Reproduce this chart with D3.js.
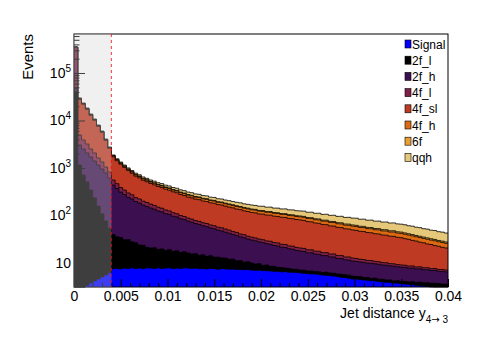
<!DOCTYPE html>
<html>
<head>
<meta charset="utf-8">
<script src="https://cdn.jsdelivr.net/npm/d3@7"></script>
<style>
body{margin:0;background:#fff;}
svg{display:block;font-family:"Liberation Sans",Arial,Helvetica,sans-serif;}
</style>
</head>
<body>
<div id="chart"></div>
<script>
//stacked y_{4->3} histograms, 100 bins from 0 to 0.04
var xMin = 0, xMax = 0.04, nBins = 100, cutValue = 0.004;

var sampleNames = ["Signal", "2f_l", "2f_h", "4f_l", "4f_sl", "4f_h", "6f", "qqh"];
var sampleColors = ["#0000ff", "#000000", "#3c1050", "#7f1e46", "#bf3a22", "#dd6a13", "#e89f33", "#e6c87a"];

var signal = [
    0, 0, 0.8, 3.4, 3.8, 4.2, 4.6, 5.1, 5.6, 6.2,
    7.6, 7.7, 7.5, 7.8, 7.7, 7.9, 7.7, 7.8, 7.6, 7.9,
    7.8, 7.7, 7.9, 7.7, 7.8, 7.9, 7.6, 7.8, 7.7, 7.9,
    7.8, 7.7, 7.8, 7.6, 7.7, 7.5, 7.7, 7.6, 7.4, 7.6,
    7.5, 7.4, 7.5, 7.3, 7.3, 7.2, 7.3, 7.1, 7.0, 7.1,
    6.9, 6.9, 6.8, 6.7, 6.7, 6.5, 6.6, 6.4, 6.4, 6.3,
    6.2, 6.1, 6.0, 5.9, 5.9, 5.7, 5.6, 5.5, 5.4, 5.3,
    5.2, 5.0, 4.95, 4.8, 4.6, 4.6, 4.5, 4.4, 4.35, 4.25,
    4.2, 4.1, 4.0, 3.95, 3.9, 3.8, 3.75, 3.7, 3.6, 3.55,
    3.5, 3.4, 3.35, 3.3, 3.2, 3.15, 3.05, 2.95, 2.9, 2.8
];
var bkg2fL = [
    40000, 1156, 712, 504, 340, 230, 153, 103, 71, 48,
    32, 28, 27, 23, 23.5, 20, 19, 16.2, 16, 13.5,
    13, 13.2, 11.5, 12.1, 10.6, 11.4, 10, 10.3, 9.0, 9.4,
    8.5, 7.8, 7.9, 6.9, 7.2, 6.3, 6.5, 5.7, 5.9, 5.2,
    5.2, 4.6, 4.6, 3.8, 3.9, 3.2, 3.3, 2.9, 2.5, 2.6,
    2.0, 2.2, 1.7, 1.8, 1.4, 1.5, 1.2, 1.3, 1.0, 1.05,
    0.9, 0.95, 0.8, 0.9, 0.75, 0.85, 0.7, 0.9, 0.75, 0.8,
    0.65, 0.8, 0.7, 0.75, 0.7, 0.6, 0.7, 0.55, 0.6, 0.5,
    0.6, 0.45, 0.55, 0.45, 0.5, 0.4, 0.5, 0.4, 0.5, 0.45,
    0.55, 0.5, 0.6, 0.55, 0.65, 0.6, 0.7, 0.75, 0.7, 0.8
];
var bkg2fH = [
    8000, 1894, 1799, 1563, 1362, 1170, 998, 845, 708, 561,
    398, 335, 276, 246, 212, 195, 170, 159, 142, 134,
    123, 115, 105, 100, 91, 87, 79, 75.5, 68.5, 65.2,
    60, 57, 52, 50.3, 46, 44.5, 40.6, 39.2, 35.8, 34.6,
    32, 30.4, 27.8, 26.9, 24.3, 23.7, 21.4, 20.5, 19.8, 18.2,
    17.9, 16.4, 16.3, 14.9, 14.8, 13.5, 13.4, 12.2, 12.1, 11.1,
    10.8, 10.5, 9.6, 9.6, 8.8, 8.7, 8.0, 7.9, 7.3, 7.3,
    6.6, 6.6, 6.0, 6.0, 5.7, 5.6, 5.3, 5.35, 5.0, 5.1,
    4.8, 4.85, 4.55, 4.6, 4.3, 4.4, 4.1, 4.1, 4.0, 3.8,
    3.8, 3.6, 3.6, 3.4, 3.4, 3.2, 3.25, 3.0, 3.05, 2.9
];
var bkg4fL = [
    300000, 1905, 1370, 1130, 806, 666, 469, 384, 265, 208,
    121, 97, 77, 66, 55, 50, 42, 39.5, 34.5, 32.5,
    30, 27, 25.5, 22.4, 21.2, 18.5, 17.8, 15.4, 14.8, 12.9,
    12, 11.6, 10.5, 10.4, 9.4, 9.5, 8.4, 8.5, 7.6, 7.6,
    7, 6.8, 6.0, 6.0, 5.2, 5.3, 4.6, 4.5, 4.4, 4.0,
    4.1, 3.7, 3.9, 3.5, 3.6, 3.3, 3.3, 3.0, 3.1, 2.8,
    2.8, 2.75, 2.5, 2.55, 2.3, 2.4, 2.2, 2.25, 2.0, 2.1,
    1.9, 2.0, 1.75, 1.85, 1.7, 1.65, 1.5, 1.5, 1.35, 1.37,
    1.22, 1.25, 1.1, 1.12, 1.0, 1.02, 0.92, 0.9, 0.88, 0.82,
    0.83, 0.76, 0.78, 0.71, 0.73, 0.66, 0.68, 0.62, 0.64, 0.6
];
var bkg4fSL = [
    3000, 23045, 18070, 14030, 10370, 8040, 5935, 4313, 2785, 1776,
    1166, 955, 815, 688, 592, 503, 436, 398, 352, 327,
    298, 279, 258, 245, 228, 216, 201, 192, 177, 168,
    156, 151, 143, 140, 132, 129, 122, 120, 113, 111,
    106, 101, 99, 93, 92, 86, 85, 81, 80, 76,
    76, 73, 73, 70, 69, 67, 66.5, 64, 63, 61,
    60, 58.5, 55.5, 54.5, 51.8, 50.9, 48.2, 47.5, 45, 44.3,
    42, 41.2, 39.1, 38.5, 37, 36.2, 34.5, 34.1, 32.5, 32,
    30.5, 30.2, 28.7, 28.4, 27, 26.8, 25.5, 25, 23.6, 22.9,
    21.2, 20.7, 19.1, 18.7, 17.2, 16.9, 15.6, 15.2, 14.1, 13.6
];
var bkg4fH = [
    500, 750, 580, 460, 340, 270, 200, 150, 100, 70,
    70, 63, 56, 53, 47, 46, 42, 42, 38.5, 37.5,
    36, 35, 33, 32.5, 30.2, 30, 27.8, 27.6, 25.8, 25.3,
    24, 23.8, 22.6, 22.9, 21.6, 21.9, 20.6, 20.8, 19.7, 19.8,
    19, 18.9, 17.8, 18.0, 17.0, 17.1, 16.2, 16, 15.9, 15.3,
    15.4, 14.8, 14.9, 14.3, 14.4, 13.8, 14.0, 13.3, 13.5, 13.0,
    13, 12.9, 12.4, 12.6, 12.0, 12.2, 11.5, 11.8, 11.1, 11.3,
    10.7, 10.9, 10.2, 10.4, 10, 9.9, 9.5, 9.7, 9.1, 9.4,
    8.8, 9.0, 8.5, 8.7, 8.2, 8.5, 8.0, 8, 7.8, 7.3,
    7.4, 6.8, 6.9, 6.3, 6.5, 5.9, 6.1, 5.5, 5.7, 5.3
];
var bkg6f = [
    100, 300, 240, 180, 140, 110, 80, 60, 45, 30,
    25, 22.5, 19.6, 18.8, 16.7, 16.3, 14.7, 14.5, 13.2, 13,
    12, 11.7, 10.9, 10.8, 10.0, 10.0, 9.2, 9.2, 8.5, 8.5,
    8, 7.9, 7.5, 7.5, 7.1, 7.1, 6.7, 6.7, 6.3, 6.3,
    6, 5.9, 5.6, 5.6, 5.3, 5.4, 5.1, 5, 4.95, 4.8,
    4.85, 4.65, 4.65, 4.45, 4.5, 4.35, 4.35, 4.15, 4.2, 4.05,
    4, 4.0, 3.85, 3.95, 3.8, 3.85, 3.75, 3.8, 3.7, 3.75,
    3.65, 3.7, 3.6, 3.65, 3.6, 3.55, 3.4, 3.4, 3.25, 3.25,
    3.1, 3.1, 2.95, 2.95, 2.8, 2.8, 2.65, 2.6, 2.55, 2.4,
    2.4, 2.25, 2.25, 2.1, 2.1, 1.95, 1.95, 1.8, 1.8, 1.7
];
var bkgQqh = [
    300, 750, 580, 460, 340, 270, 200, 150, 100, 70,
    60, 56, 55, 50.5, 50, 46, 46, 42.5, 43, 40,
    39, 39.5, 37.4, 38.6, 36.8, 37.9, 35.8, 37.0, 35.2, 36.0,
    35, 34.9, 33.2, 33.9, 31.9, 32.8, 30.7, 31.6, 29.7, 30.3,
    29, 30.2, 28.1, 29.4, 29.8, 28.0, 28.9, 29.5, 28.2, 29.1,
    29.3, 28.1, 28.9, 27.7, 28.6, 27.5, 28.3, 27.2, 27.9, 26.8,
    27, 27.8, 26.3, 27.4, 26.0, 27.1, 25.7, 26.6, 25.5, 26.3,
    25.2, 26.0, 24.8, 25.6, 25, 25.6, 24.1, 24.8, 23.5, 24.1,
    22.9, 23.4, 22.4, 22.8, 21.8, 22.1, 21.2, 21, 20.9, 19.7,
    19.9, 18.7, 18.9, 17.7, 17.9, 16.7, 16.9, 15.8, 15.8, 15
];

var xTickValues = [0, 0.005, 0.01, 0.015, 0.02, 0.025, 0.03, 0.035, 0.04];
var xTickLabels = ["0", "0.005", "0.01", "0.015", "0.02", "0.025", "0.03", "0.035", "0.04"];
var yTickValues = [10, 100, 1000, 10000, 100000];
var yTickExponents = ["", "2", "3", "4", "5"];

var width = 498,
    height = 338,
    margin = {left: 74, top: 34, right: 50, bottom: 51},
    plot_w = width - margin.left - margin.right,
    plot_h = height - margin.top - margin.bottom;

var series = [signal, bkg2fL, bkg2fH, bkg4fL, bkg4fSL, bkg4fH, bkg6f, bkgQqh];
var binW = (xMax - xMin) / nBins;

// rows for d3.stack
var rows = d3.range(nBins).map(function (i) {
    var r = {lo: xMin + i * binW, hi: xMin + (i + 1) * binW};
    sampleNames.forEach(function (name, k) { r[name] = series[k][i]; });
    return r;
});
var stacked = d3.stack().keys(sampleNames)(rows);

var scale_x = d3.scaleLinear().domain([xMin, xMax]).range([0, plot_w]);
var scale_y = d3.scaleLog().domain([3.124, 6.62e5]).range([plot_h, 0]).clamp(true);

var svg = d3.select("#chart")
    .append("svg")
    .attr("width", width)
    .attr("height", height);

svg.append("rect").attr("width", width).attr("height", height).attr("fill", "#fff");

var chart = svg.append("g")
    .attr("transform", "translate(" + margin.left + "," + margin.top + ")");

// step points of one cumulative layer
function stepPoints(layer) {
    var pts = [];
    layer.forEach(function (d) {
        pts.push({x: scale_x(d.data.lo), v: d[1]});
        pts.push({x: scale_x(d.data.hi), v: d[1]});
    });
    return pts;
}

var area = d3.area()
    .x(function (d) { return d.x; })
    .y0(plot_h)
    .y1(function (d) { return scale_y(Math.max(d.v, 1e-3)); });
var outline = d3.line()
    .x(function (d) { return d.x; })
    .y(function (d) { return scale_y(Math.max(d.v, 1e-3)); });

// draw from the top layer down, like THStack
for (var k = stacked.length - 1; k >= 0; k--) {
    var pts = stepPoints(stacked[k]);
    chart.append("path")
        .attr("d", area(pts))
        .attr("fill", sampleColors[k]);
    chart.append("path")
        .attr("d", outline(pts))
        .attr("fill", "none")
        .attr("stroke", "#000")
        .attr("stroke-width", 0.8);
}

// x axis, ticks inside
var x_axis = chart.append("g")
    .attr("transform", "translate(0," + plot_h + ")")
    .call(d3.axisBottom(scale_x)
        .tickValues(xTickValues)
        .tickFormat(function (d, i) { return xTickLabels[i]; })
        .tickSizeInner(-8).tickSizeOuter(0).tickPadding(4));
x_axis.select(".domain").remove();
x_axis.selectAll("text").attr("font-size", "14px").attr("fill", "#000").style("font-family", "inherit");

var xMinor = d3.range(0, 41).map(function (i) { return i * 0.001; })
    .filter(function (v, i) { return i % 5 !== 0; });
var x_minor = chart.append("g")
    .attr("transform", "translate(0," + plot_h + ")")
    .call(d3.axisBottom(scale_x).tickValues(xMinor).tickFormat("").tickSizeInner(-4).tickSizeOuter(0));
x_minor.select(".domain").remove();

// y axis, log
var y_axis = chart.append("g")
    .call(d3.axisLeft(scale_y).tickValues(yTickValues).tickFormat("").tickSizeInner(-11).tickSizeOuter(0));
y_axis.select(".domain").remove();

var yMinor = [];
[1, 10, 100, 1000, 10000, 100000].forEach(function (p) {
    for (var m = 2; m <= 9; m++) {
        if (m * p > 3.124 && m * p < 6.62e5) yMinor.push(m * p);
    }
});
var y_minor = chart.append("g")
    .call(d3.axisLeft(scale_y).tickValues(yMinor).tickFormat("").tickSizeInner(-5.5).tickSizeOuter(0));
y_minor.select(".domain").remove();

var yLab = chart.append("g").attr("font-size", "14px").attr("text-anchor", "end");
yTickValues.forEach(function (v, i) {
    var t = yLab.append("text")
        .attr("x", -3)
        .attr("y", scale_y(v) + 5)
        .text("10");
    if (yTickExponents[i]) {
        t.append("tspan").attr("font-size", "10px").attr("dy", -6).text(yTickExponents[i]);
    }
});

// frame
chart.append("rect")
    .attr("width", plot_w).attr("height", plot_h)
    .attr("fill", "none").attr("stroke", "#000").attr("stroke-width", 1);

// cut region shading and cut line
chart.append("rect")
    .attr("x", scale_x(xMin)).attr("y", 0)
    .attr("width", scale_x(cutValue) - scale_x(xMin)).attr("height", plot_h)
    .attr("fill", "#cccccc").attr("fill-opacity", 0.3);
chart.append("line")
    .attr("x1", scale_x(cutValue)).attr("x2", scale_x(cutValue))
    .attr("y1", 0).attr("y2", plot_h)
    .attr("stroke", "#ff0000").attr("stroke-opacity", 0.7)
    .attr("stroke-dasharray", "3,3").attr("stroke-width", 1.1);

// legend
var legend = svg.append("g").attr("transform", "translate(405,44)");
sampleNames.forEach(function (name, i) {
    var g = legend.append("g").attr("transform", "translate(0," + (i * 16.2) + ")");
    g.append("rect")
        .attr("x", 0).attr("y", -4).attr("width", 6).attr("height", 8)
        .attr("fill", sampleColors[i]).attr("stroke", "#000").attr("stroke-width", 0.6);
    g.append("text")
        .attr("x", 7).attr("y", 4.5)
        .attr("font-size", "12px")
        .text(name);
});

// axis titles
svg.append("text")
    .attr("transform", "translate(33,34) rotate(-90)")
    .attr("text-anchor", "end")
    .attr("font-size", "15px")
    .text("Events");

var xt = svg.append("text")
    .attr("x", margin.left + plot_w)
    .attr("y", 318)
    .attr("text-anchor", "end")
    .attr("font-size", "14px")
    .text("Jet distance y");
var sub = xt.append("tspan").attr("font-size", "10px").attr("dy", 5);
sub.append("tspan").text("4");
sub.append("tspan").attr("font-family", "'DejaVu Sans'").text("\u2192");
sub.append("tspan").text(" 3");
</script>
</body>
</html>
